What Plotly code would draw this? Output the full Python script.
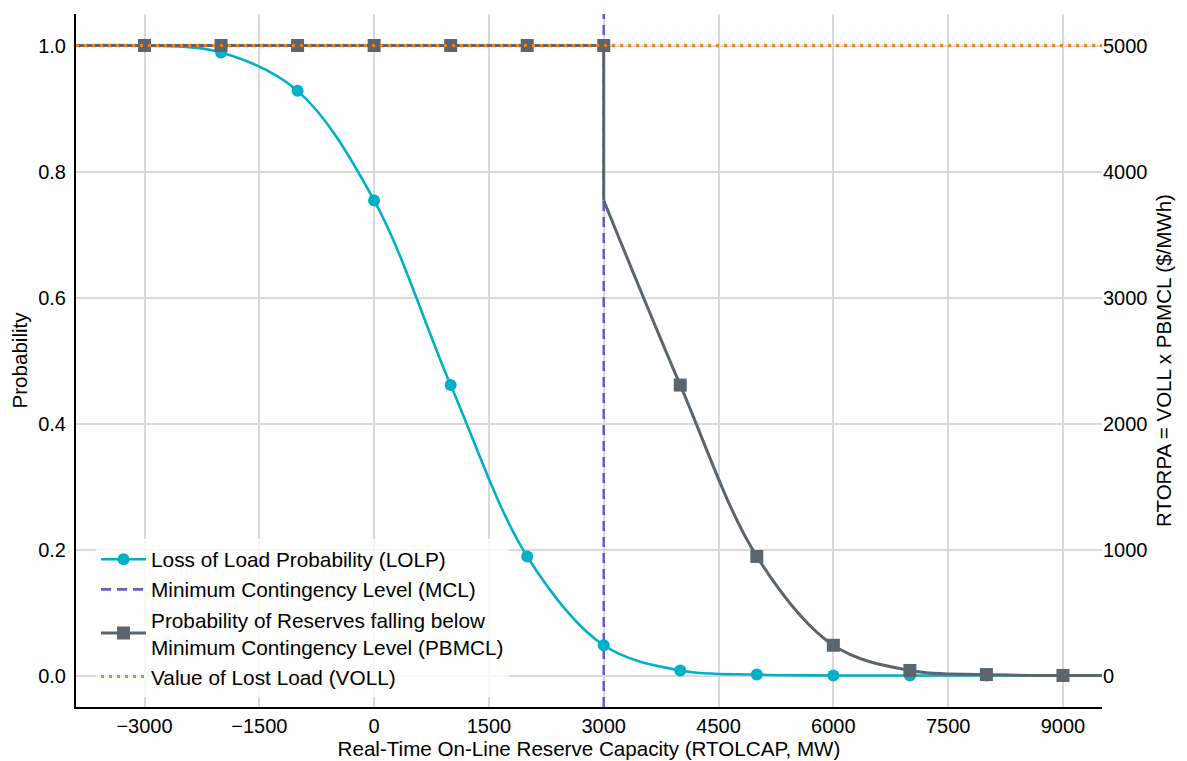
import plotly.graph_objects as go

# ---- data ----
reserve_mw = [-3000, -2000, -1000, 0, 1000, 2000, 3000, 4000, 5000, 6000, 7000, 8000, 9000]
lolp = [1.0, 0.989, 0.928, 0.754, 0.461, 0.189, 0.048, 0.008, 0.0015, 0.0, 0.0, 0.0, 0.0]
mcl_mw = 3000
pbmcl = [1.0, 1.0, 1.0, 1.0, 1.0, 1.0, 1.0, 0.461, 0.189, 0.048, 0.008, 0.0015, 0.0]
pbmcl_at_mcl_below = 0.754   # value just after the MCL step
voll = 5000  # $/MWh

# curve extent beyond the marker grid (lines run to the plot edges)
x_left_ext, x_right_ext = -4000, 10000
x_range = [-3895, 9510]
y_range = [-0.05, 1.05]
y2_range = [y_range[0] * voll, y_range[1] * voll]

x_ticks = [-3000, -1500, 0, 1500, 3000, 4500, 6000, 7500, 9000]
y_ticks = [0.0, 0.2, 0.4, 0.6, 0.8, 1.0]
y2_ticks = [0, 1000, 2000, 3000, 4000, 5000]

C_LOLP = "#00afc8"
C_PB = "#5b6570"
C_MCL = "#6a5acd"
C_VOLL = "#ff7f0e"
FONT = "Liberation Sans, Arial, sans-serif"

fig = go.Figure()

# MCL vertical line (bottom layer)
fig.add_trace(go.Scatter(
    x=[mcl_mw, mcl_mw], y=y_range, mode="lines",
    line=dict(color=C_MCL, width=2.6, dash="10px,6px"),
    name="Minimum Contingency Level (MCL)", legendrank=2))

# LOLP
fig.add_trace(go.Scatter(
    x=[x_left_ext] + reserve_mw + [x_right_ext],
    y=[lolp[0]] + lolp + [lolp[-1]],
    mode="lines+markers", line=dict(color=C_LOLP, width=2.6, shape="spline", smoothing=1.0),
    marker=dict(color=C_LOLP, size=12, symbol="circle"),
    name="Loss of Load Probability (LOLP)", legendrank=1))

# PBMCL pieces
hi_x = [x_left_ext] + [x for x in reserve_mw if x <= mcl_mw] + [mcl_mw]
hi_y = [pbmcl[0]] + [p for x, p in zip(reserve_mw, pbmcl) if x <= mcl_mw] + [pbmcl_at_mcl_below]
fig.add_trace(go.Scatter(x=hi_x, y=hi_y, mode="lines",
                         line=dict(color=C_PB, width=3), showlegend=False, hoverinfo="skip"))
lo_x = [mcl_mw] + [x for x in reserve_mw if x > mcl_mw] + [x_right_ext]
lo_y = [pbmcl_at_mcl_below] + [p for x, p in zip(reserve_mw, pbmcl) if x > mcl_mw] + [pbmcl[-1]]
fig.add_trace(go.Scatter(x=lo_x, y=lo_y, mode="lines",
                         line=dict(color=C_PB, width=3, shape="spline", smoothing=1.0),
                         showlegend=False, hoverinfo="skip"))
fig.add_trace(go.Scatter(x=reserve_mw, y=pbmcl, mode="markers",
                         marker=dict(color=C_PB, size=13, symbol="square"), showlegend=False))
fig.add_trace(go.Scatter(
    x=[None], y=[None], mode="lines+markers",
    line=dict(color=C_PB, width=3), marker=dict(color=C_PB, size=13, symbol="square"),
    name="Probability of Reserves falling below<br>Minimum Contingency Level (PBMCL)", legendrank=3))

# VOLL on secondary axis
fig.add_trace(go.Scatter(
    x=[x_left_ext, x_right_ext], y=[voll, voll], mode="lines", yaxis="y2",
    line=dict(color=C_VOLL, width=3, dash="3px,5px"),
    name="Value of Lost Load (VOLL)", legendrank=4))

# The page places the figure 8px from the top-left corner, so the figure is
# sized/margined to put the plot area where the reference has it.
fig.update_layout(
    width=1179, height=753,
    margin=dict(l=68, r=85, t=6, b=54),
    paper_bgcolor="white", plot_bgcolor="white",
    font=dict(family=FONT, size=20, color="black"),
    showlegend=True,
    legend=dict(x=0.0195, y=0.014, xanchor="left", yanchor="bottom",
                bgcolor="rgba(255,255,255,0.8)", borderwidth=0,
                font=dict(size=20.8), itemwidth=45, tracegroupgap=0),
    xaxis=dict(range=x_range, tickvals=x_ticks, automargin=False,
               ticktext=[("\u2212" + str(abs(v))) if v < 0 else str(v) for v in x_ticks],
               showgrid=True, gridcolor="#d9d9d9", gridwidth=1.5,
               showline=True, linecolor="black", linewidth=2, mirror=False,
               ticks="", zeroline=False, tickfont=dict(size=20),
               title=dict(text="Real-Time On-Line Reserve Capacity (RTOLCAP, MW)", standoff=6,
                          font=dict(size=20.6))),
    yaxis=dict(range=y_range, tickvals=y_ticks, tickformat=".1f", automargin=False,
               showgrid=True, gridcolor="#d9d9d9", gridwidth=1.5,
               showline=True, linecolor="black", linewidth=2,
               ticks="outside", ticklen=4, tickcolor="rgba(0,0,0,0)",
               zeroline=False, tickfont=dict(size=20),
               title=dict(text="Probability", standoff=8, font=dict(size=20.6))),
    yaxis2=dict(range=y2_range, tickvals=y2_ticks, overlaying="y", side="right", automargin=False,
                showgrid=False, showline=False, zeroline=False,
                ticks="", tickfont=dict(size=20),
                title=dict(text="RTORPA = VOLL x PBMCL ($/MWh)", standoff=10, font=dict(size=20.5))),
)

fig.write_html("out.html")
